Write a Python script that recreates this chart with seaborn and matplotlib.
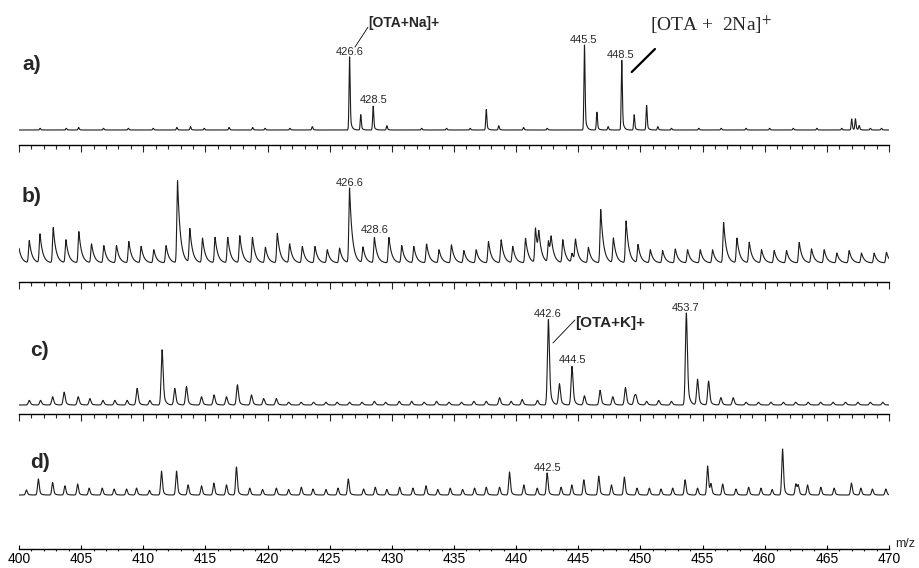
import numpy as np
import pandas as pd
import matplotlib
matplotlib.use("Agg")
import matplotlib.pyplot as plt
from matplotlib import font_manager
import seaborn as sns

sns.set_style("white")
_installed = {f.name for f in font_manager.fontManager.ttflist}
NARROW = "Liberation Sans Narrow" if "Liberation Sans Narrow" in _installed else "Liberation Sans"
plt.rcParams["font.family"] = ["Liberation Sans", "DejaVu Sans"]
plt.rcParams["mathtext.fontset"] = "stix"

# ---------------- spectra: peak centroids (m/z) and relative intensities ----------------
MZ_RANGE = (400, 470)
major_ticks = list(range(400, 471, 5))

# a) OTA + Na
a_mz = [426.6, 427.5, 428.5, 429.6, 437.6, 438.6, 445.5, 446.5, 447.4, 448.5,
        449.5, 450.5, 451.4, 467.0, 467.3, 467.6,
        401.7, 403.8, 404.8, 406.8, 408.8, 410.8, 412.7, 413.8, 414.9, 416.9,
        418.8, 419.8, 421.8, 423.6, 432.4, 434.4, 436.3, 440.6, 442.5, 452.5,
        454.7, 456.5, 458.5, 460.4, 462.3, 464.2, 466.2, 468.5, 469.4]
a_int = [86, 18, 28, 5, 24, 5, 100, 21, 4, 82,
         18, 29, 4, 13, 13, 5,
         2, 2, 3, 2, 2, 2, 3, 4, 2, 3,
         3, 2, 2, 4, 2, 2, 2, 3, 2, 2,
         2, 2, 2, 2, 2, 2, 2, 2, 2]

# b) matrix background
b_mz = [399.8, 400.83, 401.69, 402.76, 403.78, 404.82, 405.84, 406.83, 407.85, 408.84,
        409.83, 410.85, 411.84, 412.76, 413.75, 414.77, 415.78, 416.80, 417.77, 418.79,
        419.83, 420.79, 421.78, 422.80, 423.82, 424.81, 425.80, 426.6, 427.68, 428.6,
        429.77, 430.8, 431.77, 432.8, 433.8, 434.8, 435.80, 436.79, 437.78, 438.80,
        439.73, 440.76, 441.56, 441.83, 442.60, 442.82, 443.76, 444.5, 444.78, 445.82,
        446.81, 447.83, 448.85, 449.81, 450.80, 451.79, 452.81, 453.80, 454.82, 455.81,
        456.70, 457.77, 458.76, 459.75, 460.77, 461.76, 462.78, 463.77, 464.79, 465.81,
        466.80, 467.79, 468.81, 469.80]
b_int = [45, 27, 35, 43, 28, 38, 23, 21, 21, 26,
         20, 16, 21, 100, 41, 30, 31, 31, 33, 31,
         19, 36, 23, 20, 20, 16, 18, 91, 19, 31,
         31, 21, 20, 23, 16, 22, 15, 16, 26, 28,
         20, 30, 42, 27, 26, 23, 28, 11, 26, 19,
         65, 30, 51, 22, 16, 15, 17, 16, 16, 16,
         49, 30, 25, 16, 15, 15, 25, 17, 16, 12,
         15, 12, 12, 13]

# c) OTA + K
c_mz = [400.83, 401.74, 402.71, 403.64, 404.77, 405.71, 406.76, 407.72, 408.71, 409.51,
        410.53, 411.52, 412.54, 413.48, 414.69, 415.70, 416.70, 417.58, 418.71, 419.69,
        420.71, 421.7, 422.7, 423.7, 424.7, 425.6, 426.6, 427.6, 428.6, 429.5,
        430.6, 431.6, 432.6, 433.6, 434.6, 435.6, 436.6, 437.6, 438.67, 439.6,
        440.49, 441.72, 442.6, 443.49, 444.5, 445.50, 446.76, 447.78, 448.80, 449.52,
        449.65, 450.5, 451.47, 452.5, 453.7, 454.60, 455.49, 456.48, 457.47, 458.5,
        459.5, 460.5, 461.5, 462.5, 463.5, 464.5, 465.5, 466.5, 467.5, 468.5, 469.5]
c_int = [5, 5, 9, 14, 9, 7, 5, 5, 5, 18,
         5, 60, 18, 20, 9, 11, 9, 22, 11, 7,
         7, 3, 3, 3, 3, 3, 3, 3, 4, 3,
         4, 4, 3, 4, 3, 3, 4, 4, 8, 4,
         6, 5, 93, 23, 42, 10, 16, 9, 19, 8,
         8, 4, 5, 4, 100, 28, 26, 8, 8, 3,
         3, 3, 3, 3, 3, 3, 3, 3, 3, 3, 3]

# d) sample
d_mz = [400.6, 401.56, 402.71, 403.70, 404.72, 405.65, 406.70, 407.66, 408.66, 409.46,
        410.5, 411.47, 412.68, 413.61, 414.69, 415.68, 416.70, 417.50, 418.57, 419.6,
        420.71, 421.7, 422.72, 423.66, 424.7, 425.67, 426.5, 427.73, 428.67, 429.6,
        430.63, 431.70, 432.75, 433.7, 434.7, 435.7, 436.66, 437.60, 438.67, 439.47,
        440.62, 441.70, 442.5, 443.62, 444.48, 445.45, 446.65, 447.67, 448.71, 449.73,
        450.72, 451.66, 452.60, 453.60, 454.60, 455.41, 455.68, 456.62, 457.69, 458.71,
        459.70, 460.6, 461.44, 462.51, 462.7, 463.45, 464.52, 465.59, 466.98, 467.74,
        468.67, 469.75]
d_int = [11, 35, 27, 20, 24, 15, 15, 13, 13, 15,
         10, 52, 52, 22, 20, 26, 22, 61, 15, 12,
         15, 12, 17, 13, 12, 15, 35, 13, 17, 12,
         17, 15, 20, 12, 15, 12, 15, 17, 17, 50,
         22, 15, 48, 17, 22, 33, 41, 22, 39, 15,
         15, 13, 15, 33, 15, 63, 22, 24, 13, 17,
         15, 12, 100, 24, 20, 22, 17, 15, 26, 15,
         13, 13]

# ---------------- profile construction ----------------
grid = np.arange(MZ_RANGE[0], MZ_RANGE[1] + 0.0025, 0.005)


def profile(mz, inten, sig, tau, w):
    d = grid[:, None] - np.asarray(mz)[None, :]
    h = np.asarray(inten, dtype=float)[None, :]
    gauss = np.exp(-0.5 * (d / sig) ** 2)
    tail = np.exp(-np.clip(d, 0, None) / tau)
    right = (1 - w) * gauss + w * tail
    shape = np.where(d < 0, gauss, right)
    return (h * shape).sum(axis=1)


# ---------------- figure layout (pixel geometry) ----------------
W, H = 919, 568
X0, X1 = 19, 889
fig = plt.figure(figsize=(W / 100, H / 100), dpi=100)


def add_panel(y_top, y_spine, y_base, full_px, bottom=False):
    ax = fig.add_axes([X0 / W, 1 - y_spine / H, (X1 - X0) / W, (y_spine - y_top) / H])
    ax.patch.set_alpha(0)
    u = full_px / 100.0
    ax.set_xlim(*MZ_RANGE)
    ax.set_ylim(-(y_spine - y_base) / u, (y_base - y_top) / u)
    for s in ("top", "left", "right"):
        ax.spines[s].set_visible(False)
    ax.spines["bottom"].set_linewidth(1.0)
    ax.spines["bottom"].set_color("black")
    ax.set_yticks([])
    ax.set_xticks(major_ticks)
    ax.set_xticks(np.arange(400, 471, 1), minor=True)
    if bottom:
        ax.tick_params(axis="x", which="major", direction="in", length=3, width=0.8,
                       labelsize=10, pad=2, colors="black")
        ax.tick_params(axis="x", which="minor", direction="out", length=1.5, width=0.8)
        ax.set_xticklabels([str(t) for t in major_ticks], fontfamily=NARROW)
    else:
        ax.tick_params(axis="x", which="major", direction="out", length=5, width=0.8,
                       labelbottom=False)
        ax.tick_params(axis="x", which="minor", direction="out", length=3, width=0.8)
    ax.tick_params(axis="x", which="both", bottom=True)
    ax.set_xlabel("")
    ax.set_ylabel("")
    return ax


def draw(ax, y):
    df = pd.DataFrame({"mz": grid, "intensity": y})
    sns.lineplot(data=df, x="mz", y="intensity", ax=ax, color="#1c1c1c",
                 linewidth=0.8, sort=False, estimator=None)
    ax.set_xlabel("")
    ax.set_ylabel("")


def letter(txt, x, y):
    fig.text(x / W, 1 - y / H, txt, fontsize=15, fontweight="bold", va="center", ha="left")


NUM = dict(fontsize=8, ha="center", va="center")

# a)
ax_a = add_panel(5, 145, 130, 85)
draw(ax_a, profile(a_mz, a_int, 0.045, 0.12, 0.25))
letter("a)", 22, 65)
ax_a.text(426.6, 92, "426.6", **NUM)
ax_a.text(428.55, 35, "428.5", **NUM)
ax_a.text(445.45, 106, "445.5", **NUM)
ax_a.text(448.4, 88, "448.5", **NUM)
ax_a.text(428.1, 126, "[OTA+Na]+", fontsize=10, fontweight="bold", ha="left", va="center")
ax_a.plot([427.03, 428.08], [97.6, 121], color="black", lw=0.6, clip_on=False)
ax_a.plot([449.3, 451.17], [68.2, 95.3], color="black", lw=1.6, clip_on=False)
ax_a.text(450.76, 123.5, r"[OTA +  2Na]$^{+}$", fontsize=14, family="Liberation Serif",
          ha="left", va="center")

# b)
ax_b = add_panel(150, 282, 263, 82)
draw(ax_b, profile(b_mz, b_int, 0.06, 0.22, 1.0))
letter("b)", 22, 196)
ax_b.text(426.6, 97.6, "426.6", **NUM)
ax_b.text(428.65, 40, "428.6", **NUM)

# c)
ax_c = add_panel(290, 414, 405, 92)
draw(ax_c, profile(c_mz, c_int, 0.08, 0.16, 0.4))
letter("c)", 30, 350)
ax_c.text(442.55, 99, "442.6", **NUM)
ax_c.text(444.5, 49, "444.5", **NUM)
ax_c.text(453.6, 105.4, "453.7", **NUM)
ax_c.text(444.73, 89, "[OTA+K]+", fontsize=11, fontweight="bold", ha="left", va="center")
ax_c.plot([442.96, 444.73], [67.4, 92.4], color="black", lw=0.6, clip_on=False)

# d)
ax_d = add_panel(425, 549, 495, 46, bottom=True)
draw(ax_d, profile(d_mz, d_int, 0.07, 0.14, 0.35))
letter("d)", 30, 463)
ax_d.text(442.55, 58.7, "442.5", **NUM)
fig.text(895 / W, 1 - 544 / H, "m/z", fontsize=9, fontfamily=NARROW, ha="left", va="center")

fig.savefig("out.png", dpi=100)
